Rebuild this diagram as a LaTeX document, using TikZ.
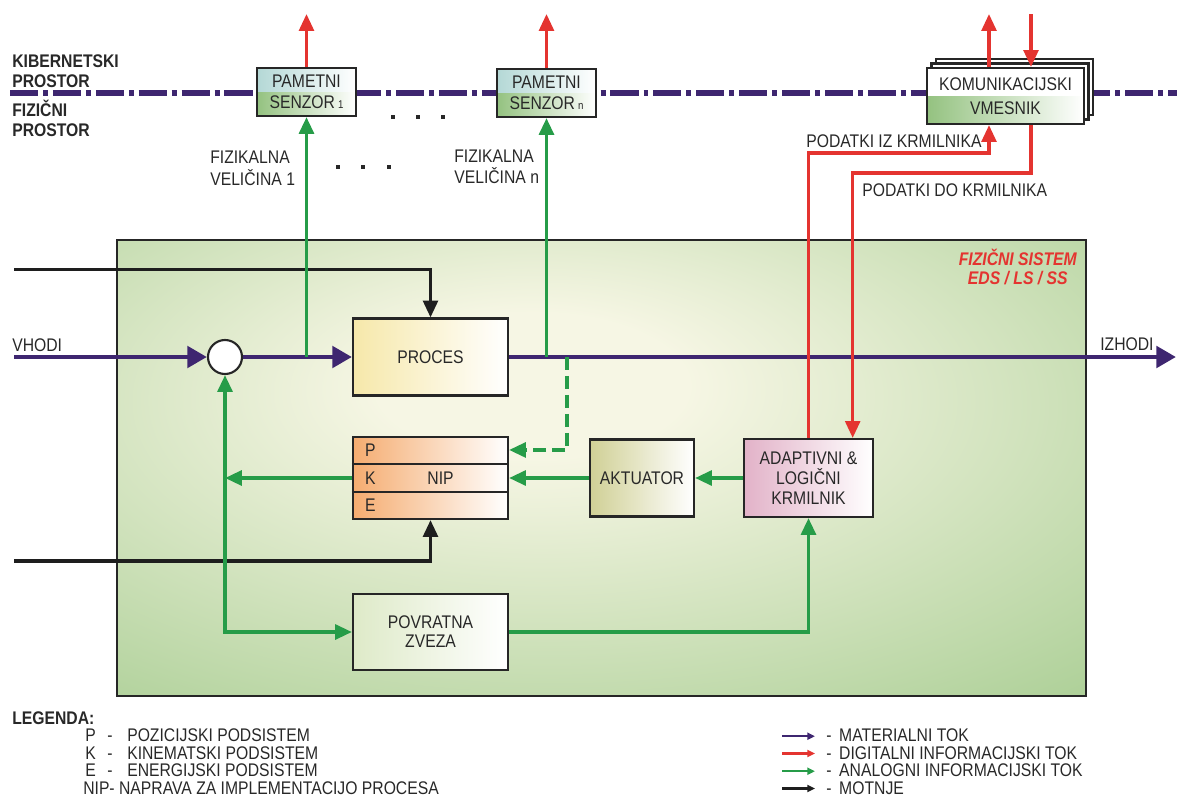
\documentclass[tikz,border=0pt]{standalone}
\usepackage{fontspec}
\setmainfont{Liberation Sans}[FakeStretch=0.86]
\usepackage{tikz}
\usetikzlibrary{arrows.meta,positioning,calc}
\definecolor{tokmat}{RGB}{62,38,112}
\definecolor{tokdig}{RGB}{228,52,48}
\definecolor{tokana}{RGB}{38,156,72}
\definecolor{tokmot}{RGB}{30,30,30}
\definecolor{okvir}{RGB}{38,38,38}
\definecolor{besedilo}{RGB}{40,40,40}
\definecolor{sisZun}{RGB}{166,204,144}
\definecolor{sisSred}{RGB}{246,246,228}
\definecolor{senGor}{RGB}{180,216,214}
\definecolor{senDol}{RGB}{148,194,128}
\definecolor{procesL}{RGB}{246,232,170}
\definecolor{nipL}{RGB}{245,172,112}
\definecolor{aktL}{RGB}{208,208,150}
\definecolor{krmL}{RGB}{226,178,200}
\definecolor{povL}{RGB}{222,234,200}
\pgfdeclareradialshading{sistemsenca}{\pgfpoint{-4bp}{10bp}}{color(0bp)=(sisSred); color(8bp)=(sisSred); color(44bp)=(sisZun); color(80bp)=(sisZun)}
\newdimen\pxu
\pxu=0.025cm

\begin{document}
\begin{tikzpicture}[x=0.025cm,y=-0.025cm,font=\fontsize{13}{15}\selectfont,text=besedilo,
  blok/.style={draw=okvir,line width=1.5pt,inner sep=0pt,align=center},
  senzor/.style={blok,minimum width=99*\pxu,minimum height=48*\pxu,
    path picture={
      \fill[left color=senGor,right color=white] (path picture bounding box.north west) rectangle (path picture bounding box.east);
      \fill[left color=senDol,right color=white] (path picture bounding box.west) rectangle (path picture bounding box.south east);}},
  vmesnik/.style={blok,minimum width=157*\pxu,minimum height=56*\pxu,fill=white,
    font=\fontsize{13}{17}\selectfont,
    path picture={
      \fill[left color=senDol,right color=white] (path picture bounding box.west) rectangle (path picture bounding box.south east);}},
  plast/.style={draw=okvir,line width=1.5pt,fill=white,minimum width=157*\pxu,minimum height=56*\pxu},
  sistem/.style={draw=okvir,line width=1.3pt,shading=sistemsenca,minimum width=969*\pxu,minimum height=456*\pxu,inner sep=0pt},
  sumnik/.style={draw=okvir,line width=1.5pt,fill=white,circle,minimum size=34*\pxu,inner sep=0pt},
  naslov/.style={inner sep=0pt,align=center,text=tokdig,font=\fontsize{13}{13.5}\selectfont\bfseries\itshape},
  mat/.style={draw=tokmat,line width=3.5pt,>={Triangle[length=14pt,width=15pt]}},
  dig/.style={draw=tokdig,line width=2.3pt,>={Triangle[length=12pt,width=10.5pt]}},
  ana/.style={draw=tokana,line width=2.6pt,>={Triangle[length=12pt,width=10.5pt]}},
  mot/.style={draw=tokmot,line width=2.4pt,>={Triangle[length=12pt,width=10.5pt]}},
  granica/.style={draw=tokmat,line width=3.8pt,dash pattern=on 20pt off 3.5pt on 3.5pt off 3.5pt},
  legtok/.style={line width=1.5pt,>={Triangle[length=5.5pt,width=5pt]}},
  oznaka/.style={inner sep=0pt,align=left},
  debelo/.style={oznaka,font=\fontsize{13}{14.5}\selectfont\bfseries}]

  \useasboundingbox (0,0) rectangle (1177,796);

  % fizicni sistem
  \node[sistem] (sistem) at (601.5,467.8) {};
  \node[naslov,anchor=south east] (naslov) at (1077,285) {FIZIČNI SISTEM\\EDS / LS / SS};

  % meja med prostoroma
  \draw[granica] (10,93) -- (1177,93);
  \node[debelo,anchor=south west] (kiber) at (12,88) {KIBERNETSKI\\PROSTOR};
  \node[debelo,anchor=south west] (fiz) at (12,137) {FIZIČNI\\PROSTOR};

  % senzorji in vmesnik
  \node[senzor] (senzorA) at (306.5,92) {PAMETNI\\SENZOR\,{\fontsize{8}{8}\selectfont 1}};
  \node[senzor] (senzorN) at (546.5,93) {PAMETNI\\SENZOR\,{\fontsize{8}{8}\selectfont n}};
  \coordinate (vmPoz) at (1005.5,96);
  \node[plast] at ($(vmPoz)+(9,-9)$) {};
  \node[plast] at ($(vmPoz)+(4.5,-4.5)$) {};
  \node[vmesnik] (vmesnik) at (vmPoz) {KOMUNIKACIJSKI\\VMESNIK};

  \foreach \x in {393,418,443} \fill[besedilo] (\x-2,115) rectangle (\x+2,119);
  \foreach \x in {338,363,389} \fill[besedilo] (\x-2,165) rectangle (\x+2,169);
  \node[oznaka,anchor=south west] (velA) at (210,185.5) {FIZIKALNA\\VELIČINA 1};
  \node[oznaka,anchor=south west] (velN) at (454,184) {FIZIKALNA\\VELIČINA n};

  % bloki
  \node[sumnik] (sum) at (225,357) {};
  \node[blok,left color=procesL,right color=white,minimum width=155*\pxu,minimum height=77*\pxu] (proces) at (430.5,357) {PROCES};
  \node[blok,left color=nipL,right color=white,minimum width=155*\pxu,minimum height=82*\pxu] (nip) at (430.5,478) {};
  \draw[okvir,line width=0.9pt] ($(nip.north west)!1/3!(nip.south west)$) -- ($(nip.north east)!1/3!(nip.south east)$);
  \draw[okvir,line width=0.9pt] ($(nip.north west)!2/3!(nip.south west)$) -- ($(nip.north east)!2/3!(nip.south east)$);
  \foreach \crka/\dy in {P/-27.3,K/0,E/27.3}
    \node[inner sep=0pt,anchor=west] (nip\crka) at ($(nip.west)+(13,\dy)$) {\crka};
  \node[inner sep=0pt] (nipNapis) at ($(nip.center)+(10,0)$) {NIP};
  \node[blok,left color=aktL,right color=white,minimum width=104*\pxu,minimum height=77*\pxu] (aktuator) at (642,478) {AKTUATOR};
  \node[blok,left color=krmL,right color=white,minimum width=129*\pxu,minimum height=78*\pxu,font=\fontsize{13}{14.4}\selectfont] (krmilnik) at (808.5,478) {ADAPTIVNI \&\\LOGIČNI\\KRMILNIK};
  \node[blok,left color=povL,right color=white,minimum width=155*\pxu,minimum height=76*\pxu,font=\fontsize{13}{13.5}\selectfont] (povratna) at (430.5,632) {POVRATNA\\ZVEZA};

  % materialni tok
  \coordinate (vhodi) at (14,357);
  \coordinate (izhodi) at (1176,357);
  \node[oznaka,anchor=base west] (vhodiNapis) at (12,351) {VHODI};
  \node[oznaka,anchor=base west] (izhodiNapis) at (1100,350) {IZHODI};
  \draw[mat,->] (vhodi) -- (sum.west);
  \draw[mat,->] (sum.east) -- (proces.west);
  \draw[mat,->] (proces.east) -- (izhodi);

  % motnje
  \coordinate (motnjaGor) at (14,269.5);
  \coordinate (motnjaDol) at (14,561);
  \draw[mot,->] (motnjaGor) -| (proces.north);
  \draw[mot,->] (motnjaDol) -| (nip.south);

  % analogni tok
  \draw[ana,->] (senzorA |- sum) -- (senzorA.south);
  \draw[ana,->] (senzorN |- sum) -- (senzorN.south);
  \coordinate (odcep) at (567,357);
  \coordinate (nipVhodP) at ($(nip.north east)!1/6!(nip.south east)$);
  \draw[ana,dash pattern=on 9pt off 4.5pt,->] (odcep) |- (nipVhodP);
  \draw[ana,->] (aktuator.west) -- (nip.east);
  \draw[ana,->] (krmilnik.west) -- (aktuator.east);
  \draw[ana,->] (nip.west) -- (sum |- nip.west);
  \draw[ana,<->] (sum.south) |- (povratna.west);
  \draw[ana,->] (povratna.east) -| (krmilnik.south);

  % digitalni tok
  \coordinate (izhodA) at (306.5,14);
  \coordinate (izhodN) at (546.5,14);
  \coordinate (oblakIz) at (989,14);
  \coordinate (oblakV) at (1031,14);
  \coordinate (kanalIz) at (900,153);
  \coordinate (kanalDo) at (940,173);
  \coordinate (krmDo) at ($(krmilnik.north west)!0.837!(krmilnik.north east)$);
  \draw[dig,->] (senzorA.north) -- (izhodA);
  \draw[dig,->] (senzorN.north) -- (izhodN);
  \draw[dig,->] (vmesnik.north -| oblakIz) -- (oblakIz);
  \draw[dig,->] (oblakV) -- (vmesnik.north -| oblakV);
  \draw[dig,->] (krmilnik.north) |- (kanalIz) -| (vmesnik.south -| oblakIz);
  \draw[dig,->] (vmesnik.south -| oblakV) |- (kanalDo) -| (krmDo);
  \node[oznaka,anchor=base west] (podIz) at (806,147.5) {PODATKI IZ KRMILNIKA};
  \node[oznaka,anchor=base west] (podDo) at (862,196.5) {PODATKI DO KRMILNIKA};

  % legenda
  \node[debelo,anchor=base west] (legenda) at (12,724) {LEGENDA:};
  \foreach \crka/\opis/\y in {P/POZICIJSKI PODSISTEM/741.5,K/KINEMATSKI PODSISTEM/759,E/ENERGIJSKI PODSISTEM/776.5}
  {
    \node[oznaka,anchor=base west] (leg\crka) at (85,\y) {\crka};
    \node[oznaka,anchor=base west] (opis\crka) at (107,\y) {-\hspace{10.5pt}\opis};
  }
  \node[oznaka,anchor=base west] (legNIP) at (83,794.5) {NIP-\ NAPRAVA ZA IMPLEMENTACIJO PROCESA};
  \foreach \barva/\opis/\ime/\y in {tokmat/MATERIALNI TOK/Mat/741.7,tokdig/DIGITALNI INFORMACIJSKI TOK/Dig/759,tokana/ANALOGNI INFORMACIJSKI TOK/Ana/776.7,tokmot/MOTNJE/Mot/794}
  {
    \node[oznaka,anchor=base west] (leg\ime) at (826,\y) {-\hspace{5.5pt}\opis};
    \draw[legtok,draw=\barva,->] ($(leg\ime.base west)+(-44,-5.5)$) -- ($(leg\ime.base west)+(-11,-5.5)$);
  }
\end{tikzpicture}
\end{document}
